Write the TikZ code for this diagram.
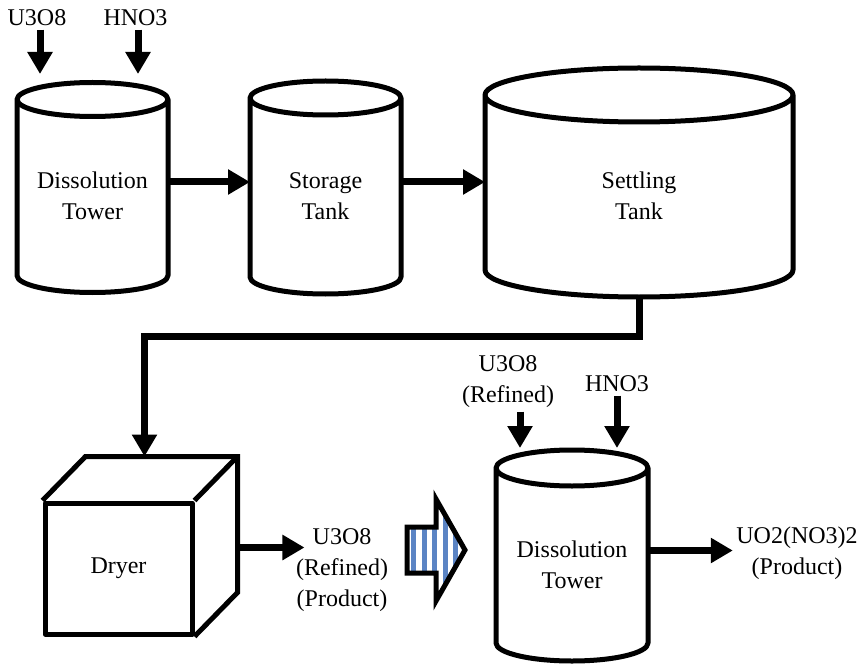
\documentclass[tikz,border=0pt]{standalone}
\usepackage{fontspec}
\setmainfont{Liberation Serif}
\usetikzlibrary{arrows.meta,calc}

\definecolor{stripeblue}{RGB}{91,132,196}

% cylinder outline round a tank node: #1 node, #2 half height of the lid
\newcommand{\tankoutline}[2]{%
  \draw[tankline] let \p1=(#1.north west), \p2=(#1.south east),
      \n1={(\x2-\x1)/2} in
    (\x1,\y1+#2) -- (\x1,\y2)
    arc[start angle=180, end angle=360, x radius=\n1, y radius=#2]
    -- (\x2,\y1+#2)
    arc[start angle=0, end angle=360, x radius=\n1, y radius=#2];}

\begin{document}
\begin{tikzpicture}[x=1pt,y=1pt,
    every node/.style={font=\fontsize{24}{31}\selectfont,align=center},
    tank/.style={inner sep=0pt,outer sep=0pt},
    tankline/.style={line width=5pt,line join=round},
    flow/.style={line width=7pt,-{Triangle[length=22pt,width=24pt]}}]
  \useasboundingbox (0,0) rectangle (861,665);

  % upper line
  \node[tank,minimum width=151,minimum height=159] (tower1) at (92.5,469) {Dissolution\\Tower};
  \node[tank,minimum width=151,minimum height=162] (storage) at (325.5,469) {Storage\\Tank};
  \node[tank,minimum width=308,minimum height=148] (settle) at (639,469) {Settling\\Tank};
  \tankoutline{tower1}{17pt}
  \tankoutline{storage}{17pt}
  \tankoutline{settle}{27pt}

  \node (feed1) at (37,647) {U3O8};
  \node (acid1) at (135.5,647) {HNO3};
  \coordinate (in1) at ([shift={(-52.5,42.5)}]tower1.north);
  \coordinate (in2) at ([shift={(45.5,42.5)}]tower1.north);
  \draw[flow] (feed1.south -| in1) -- (in1);
  \draw[flow] (acid1.south -| in2) -- (in2);

  \draw[flow] ([yshift=14]tower1.east) -- ([yshift=14]storage.west);
  \draw[flow] ([yshift=14]storage.east) -- ([yshift=14]settle.west);

  % dryer
  \node[draw,tankline,minimum width=147,minimum height=131] (dryer) at (118.5,96.5) {Dryer};
  \draw[tankline,line join=miter] (dryer.north west) -- ++(43,44)
    -- ([shift={(43,44)}]dryer.north east) -- ([shift={(43,44)}]dryer.south east)
    -- (dryer.south east);
  \draw[tankline] (dryer.north east) -- ++(43,44);

  \draw[line width=7pt,-{Triangle[length=22pt,width=24pt]}]
    ([yshift=-27]settle.south) -- ++(0,-39) -| ([shift={(26,44)}]dryer.north);

  \node (prod1) at (342,94.5) {U3O8\\(Refined)\\(Product)};
  \draw[flow] ([shift={(43,21)}]dryer.east) -- ([shift={(12,23)}]prod1.west);

  % striped block arrow
  \begin{scope}
    \clip (407,138) -- (436,138) -- (436,166) -- (465,115) -- (436,64)
      -- (436,92) -- (407,92) -- cycle;
    \foreach \x in {411,421.5,...,464}
      \fill[stripeblue] (\x,60) rectangle ++(5,110);
  \end{scope}
  \draw[line width=5pt,line join=miter] (407,138) -- (436,138) -- (436,166)
    -- (465,115) -- (436,64) -- (436,92) -- (407,92) -- cycle;

  % second dissolution tower
  \node[tank,minimum width=152,minimum height=157] (tower2) at (572,100.5) {Dissolution\\Tower};
  \tankoutline{tower2}{18pt}

  \node (feed2) at (508,283) {U3O8\\(Refined)};
  \node (acid2) at (617,281) {HNO3};
  \coordinate (in3) at ([shift={(-52,38)}]tower2.north);
  \coordinate (in4) at ([shift={(45,38)}]tower2.north);
  \draw[flow] (feed2.south -| in3) -- (in3);
  \draw[flow] (acid2.south -| in4) -- (in4);

  \node (prod2) at (797,112) {UO2(NO3)2\\(Product)};
  \draw[flow] ([yshift=14]tower2.east) -- ([yshift=14]tower2.east -| prod2.west);
\end{tikzpicture}
\end{document}
